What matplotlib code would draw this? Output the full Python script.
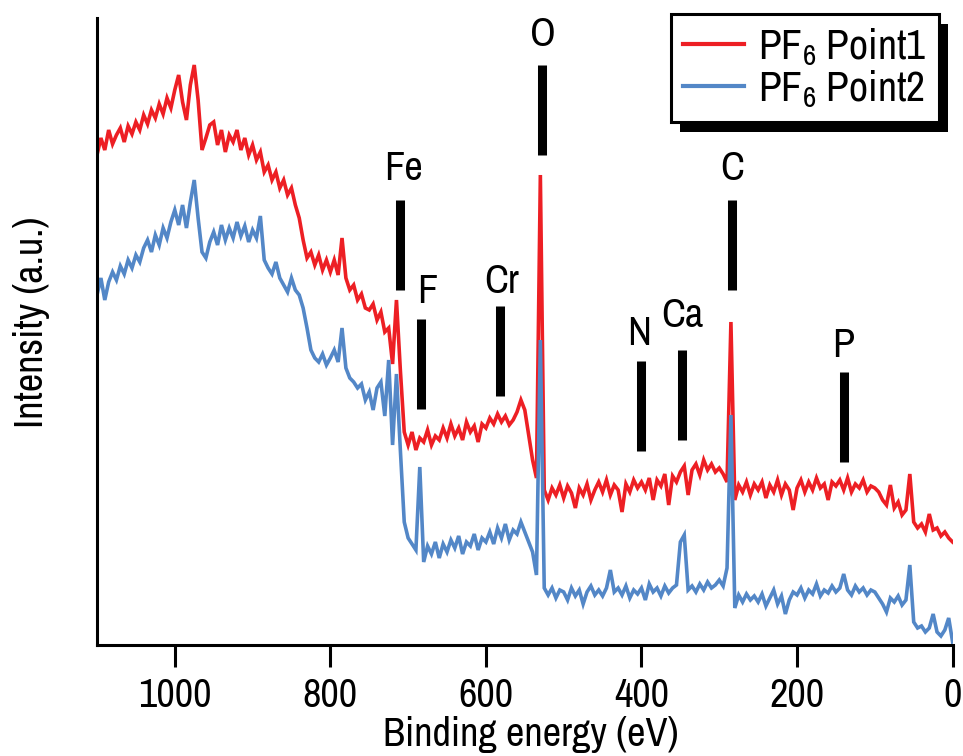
import numpy as np
import matplotlib
matplotlib.use("Agg")
import matplotlib.pyplot as plt
from matplotlib import font_manager
from matplotlib.patches import Rectangle

# Binding-energy grid of the survey scans (eV), 5 eV steps from 1100 down to 0
energy_ev = np.arange(1100, -1, -5)

# Survey intensities (a.u.), point 1
point1 = [
    495, 512, 500, 520, 506, 515, 522, 508, 524, 516,
    528, 520, 535, 526, 540, 532, 546, 536, 552, 542,
    560, 575, 548, 530, 565, 585, 550, 500, 512, 525,
    528, 505, 520, 498, 515, 508, 520, 500, 512, 495,
    505, 490, 498, 478, 485, 470, 478, 462, 470, 455,
    462, 445, 432, 410, 392, 398, 385, 395, 380, 390,
    378, 390, 375, 412, 372, 360, 365, 350, 356, 342,
    340, 346, 330, 338, 318, 322, 286, 350, 280, 218,
    205, 218, 200, 212, 208, 220, 205, 214, 210, 222,
    212, 226, 214, 222, 210, 228, 218, 224, 208, 226,
    222, 232, 226, 236, 228, 234, 225, 230, 238, 250,
    240, 215, 190, 172, 475, 160, 150, 162, 155, 165,
    152, 164, 157, 142, 162, 155, 166, 150, 160, 168,
    158, 170, 155, 165, 160, 138, 166, 158, 170, 162,
    168, 160, 172, 150, 170, 164, 176, 145, 174, 168,
    178, 184, 155, 180, 186, 175, 190, 180, 186, 178,
    182, 176, 168, 328, 150, 165, 158, 168, 155, 166,
    160, 168, 152, 165, 158, 170, 155, 166, 160, 140,
    162, 170, 158, 168, 160, 172, 162, 166, 150, 168,
    164, 170, 160, 172, 158, 166, 162, 170, 158, 164,
    162, 158, 150, 145, 165, 142, 148, 135, 140, 176,
    128, 122, 126, 118, 136, 120, 122, 114, 118, 112, 108,
]

# Survey intensities (a.u.), point 2
point2 = [
    355, 372, 350, 368, 378, 370, 384, 376, 390, 382,
    395, 388, 402, 410, 398, 415, 405, 422, 412, 428,
    440, 425, 445, 422, 448, 470, 432, 398, 392, 408,
    418, 405, 425, 410, 422, 412, 428, 414, 424, 408,
    420, 412, 434, 390, 382, 376, 388, 372, 365, 358,
    372, 360, 355, 342, 322, 300, 292, 288, 296, 285,
    292, 300, 288, 322, 282, 272, 268, 262, 266, 250,
    258, 240, 262, 268, 234, 290, 205, 276, 200, 128,
    112, 106, 100, 183, 88, 104, 96, 108, 92, 106,
    98, 110, 102, 114, 96, 108, 104, 116, 100, 112,
    108, 118, 106, 122, 112, 126, 110, 120, 116, 128,
    118, 108, 98, 75, 310, 62, 55, 62, 52, 60,
    58, 50, 62, 54, 60, 46, 58, 64, 55, 60,
    54, 62, 80, 58, 62, 55, 64, 52, 60, 56,
    62, 50, 66, 58, 62, 54, 64, 57, 62, 65,
    108, 115, 60, 64, 58, 66, 60, 68, 62, 65,
    70, 64, 82, 235, 42, 55, 48, 56, 50, 54,
    48, 56, 44, 52, 60, 46, 54, 36, 50, 58,
    55, 62, 52, 60, 56, 66, 54, 60, 57, 64,
    58, 62, 76, 60, 55, 64, 58, 62, 55, 60,
    58, 52, 46, 38, 52, 48, 54, 45, 50, 85,
    28, 22, 24, 18, 22, 36, 18, 14, 20, 32, 8,
]

series_labels = ["PF$_6$ Point1", "PF$_6$ Point2"]
series_colors = ["#ED1F24", "#5387C7"]

# Element assignments: marker energy, marker top, label energy, label baseline
elements = ["Fe", "F", "Cr", "O", "N", "Ca", "C", "P"]
marker_ev = [710, 683, 582, 528, 400, 348, 284, 140]
marker_top = [450, 331, 344, 585, 289, 300, 450, 278]
label_ev = [706, 676, 580, 527, 403, 348, 284, 141]
label_base = [470, 347, 357, 604, 305, 323, 470, 293]
marker_len = 90

xticks = [1000, 800, 600, 400, 200, 0]

# Narrow grotesque for all text, with fallbacks
available = {f.name for f in font_manager.fontManager.ttflist}
preferred = ["Liberation Sans Narrow", "Arial Narrow", "Archivo Narrow", "Liberation Sans"]
family = next(f for f in preferred if f in available)
plt.rcParams["font.family"] = [family, "DejaVu Sans"]
plt.rcParams["mathtext.default"] = "regular"

W, H = 963, 756
fig = plt.figure(figsize=(W / 100, H / 100), dpi=100)
ax = fig.add_axes([97 / W, 1 - 645 / H, (952.6 - 97) / W, (645 - 18) / H])

for vals, lab, col in zip([point1, point2], series_labels, series_colors):
    ax.plot(energy_ev, vals, color=col, lw=2.6, label=lab, solid_joinstyle="miter")

for el, e, top, le, lb in zip(elements, marker_ev, marker_top, label_ev, label_base):
    ax.plot([e, e], [top - marker_len, top], color="black", lw=6.5,
            solid_capstyle="butt")
    ax.text(le, lb, el, ha="center", va="baseline", fontsize=29)

ax.set_xlim(1100, 0)
ax.set_ylim(5, 632)
ax.set_xticks(xticks)
ax.set_xticklabels([str(t) for t in xticks])
ax.set_yticks([])
for s in ["top", "right"]:
    ax.spines[s].set_visible(False)
for s in ["left", "bottom"]:
    ax.spines[s].set_linewidth(2.2)
ax.tick_params(axis="x", direction="out", length=16, width=2.2, pad=7, labelsize=29)

fig.text(531 / W, 1 - 746 / H, "Binding energy (eV)", ha="center", va="baseline",
         fontsize=29)
fig.text(43 / W, 1 - 322 / H, "Intensity (a.u.)", rotation=90, rotation_mode="anchor",
         ha="center", va="baseline", fontsize=29)

leg = fig.legend(loc="upper right", bbox_to_anchor=(939 / W, 1 - 14 / H),
                 bbox_transform=fig.transFigure, fontsize=30, frameon=True,
                 fancybox=False, edgecolor="black", framealpha=1,
                 handlelength=1.45, handletextpad=0.35, labelspacing=0.02,
                 borderpad=0.3, borderaxespad=0)
leg.get_frame().set_linewidth(2.2)
for h in leg.get_lines():
    h.set_linewidth(3)

# Solid drop shadow behind the legend box
fig.canvas.draw()
bb = leg.get_window_extent()
inv = fig.transFigure.inverted()
(x0, y0), (x1, y1) = inv.transform([[bb.x0 + 9, bb.y0 - 10], [bb.x1 + 9, bb.y1 - 10]])
fig.add_artist(Rectangle((x0, y0), x1 - x0, y1 - y0, transform=fig.transFigure,
                         facecolor="black", edgecolor="none", zorder=4))

fig.savefig("out.png", dpi=100)
